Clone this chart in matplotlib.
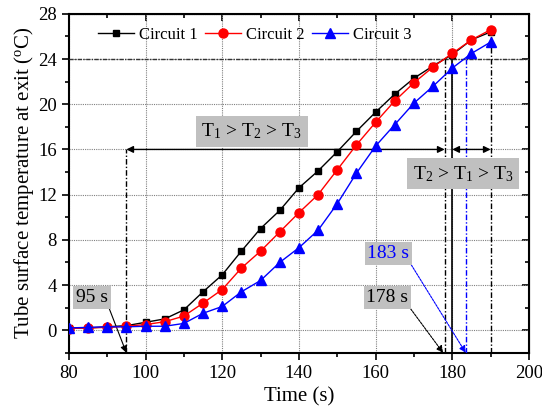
import matplotlib
matplotlib.use('Agg')
import matplotlib.pyplot as plt
from matplotlib.ticker import MultipleLocator

plt.rcParams['font.family'] = ['Liberation Serif', 'DejaVu Serif']
plt.rcParams['mathtext.fontset'] = 'custom'
plt.rcParams['mathtext.rm'] = 'Liberation Serif'
plt.rcParams['mathtext.it'] = 'Liberation Serif:italic'

# time (s)
time = [80, 85, 90, 95, 100, 105, 110, 115, 120, 125, 130, 135,
        140, 145, 150, 155, 160, 165, 170, 175, 180, 185, 190]
# tube surface temperature at exit (C)
circuit1 = [0.2, 0.2, 0.3, 0.4, 0.7, 1.0, 1.8, 3.4, 4.9, 7.0, 9.0, 10.6,
            12.6, 14.1, 15.8, 17.6, 19.3, 20.9, 22.3, 23.4, 24.4, 25.7, 26.4]
circuit2 = [0.15, 0.2, 0.25, 0.35, 0.5, 0.75, 1.25, 2.4, 3.6, 5.5, 7.0, 8.7,
            10.4, 12.0, 14.2, 16.4, 18.4, 20.3, 21.9, 23.3, 24.5, 25.7, 26.6]
circuit3 = [0.2, 0.25, 0.3, 0.3, 0.35, 0.35, 0.6, 1.5, 2.1, 3.4, 4.4, 6.0,
            7.3, 8.85, 11.2, 13.9, 16.3, 18.2, 20.1, 21.6, 23.2, 24.5, 25.5]

# marked instants (s) and levels (C)
t_start = 95
t_c1 = 178
t_c2 = 180
t_c3 = 183.5
t_end = 190
level_24 = 24
level_16 = 16

fig = plt.figure(figsize=(5.42, 4.2), dpi=100)
ax = fig.add_axes([0.127, 0.160, 0.849, 0.807])

ax.plot(time, circuit1, color='black', marker='s', ms=5, lw=1, label='Circuit 1', zorder=5)
ax.plot(time, circuit2, color='red', marker='o', ms=6.5, lw=1, label='Circuit 2', zorder=5)
ax.plot(time, circuit3, color='blue', marker='^', ms=7, lw=1, label='Circuit 3', zorder=5)

dashdot = (0, (4, 1.5, 1, 1.5))
ax.axhline(level_24, color='#333333', lw=1, ls=(0, (3, 1, 1, 1)), zorder=3)
ax.vlines(t_start, -2, level_16, color='black', lw=1, ls=dashdot, zorder=3)
ax.vlines(t_c1, -2, level_24, color='black', lw=1, ls=dashdot, zorder=3)
ax.vlines(t_c2, -2, circuit2[time.index(180)], color='black', lw=1.2, zorder=3)
ax.vlines(t_c3, -2, level_24, color='blue', lw=1, ls=dashdot, zorder=3)
ax.vlines(t_end, -2, circuit1[-1], color='black', lw=1, ls=dashdot, zorder=3)

arr = dict(arrowstyle='<|-|>', color='black', lw=1, mutation_scale=10, shrinkA=0, shrinkB=0)
ax.annotate('', xy=(t_start, level_16), xytext=(t_c1, level_16), arrowprops=arr, zorder=4)
ax.annotate('', xy=(t_c2, level_16), xytext=(t_end, level_16), arrowprops=arr, zorder=4)

box = dict(boxstyle='square,pad=0.15', fc='#c0c0c0', ec='none')
ax.annotate('95 s', xy=(t_start, -2), xytext=(86.1, 2.9), fontsize=14,
            ha='center', va='center', bbox=box,
            arrowprops=dict(arrowstyle='-|>', color='black', lw=0.8, relpos=(1, 0),
                            mutation_scale=10, shrinkA=0, shrinkB=0))
ax.annotate('178 s', xy=(t_c1 - 0.4, -2), xytext=(163.1, 2.9), fontsize=14,
            ha='center', va='center', bbox=box,
            arrowprops=dict(arrowstyle='-|>', color='black', lw=0.8, ls=(0, (2, 1)),
                            relpos=(1, 0), mutation_scale=10, shrinkA=0, shrinkB=0))
ax.annotate('183 s', xy=(t_c3, -2), xytext=(163.35, 6.8), fontsize=14, color='blue',
            ha='center', va='center', bbox=box,
            arrowprops=dict(arrowstyle='-|>', color='blue', lw=0.8, ls=(0, (2, 1)),
                            relpos=(1, 0), mutation_scale=10, shrinkA=0, shrinkB=0))

box2 = dict(boxstyle='square,pad=0.3', fc='#c0c0c0', ec='none')
ax.text(127.7, 17.6, r'T$_1$ > T$_2$ > T$_3$', fontsize=14, ha='center', va='center',
        bbox=box2, zorder=6)
ax.text(182.8, 13.85, r'T$_2$ > T$_1$ > T$_3$', fontsize=14, ha='center', va='center',
        bbox=box2, zorder=6)

ax.set_xlim(80, 200)
ax.set_ylim(-2, 28)
ax.xaxis.set_major_locator(MultipleLocator(20))
ax.xaxis.set_minor_locator(MultipleLocator(10))
ax.yaxis.set_major_locator(MultipleLocator(4))
ax.yaxis.set_minor_locator(MultipleLocator(2))
ax.grid(True, which='major', color='gray', lw=0.8, ls=(0, (1, 1)))

ax.tick_params(which='both', direction='out', top=False, right=False, labelsize=13.5, width=1.2)
ax.tick_params(which='major', length=5)
ax.tick_params(which='minor', length=3)

# inward ticks on the top and right edges
ax2 = ax.secondary_xaxis('top')
ax2.xaxis.set_major_locator(MultipleLocator(20))
ax2.xaxis.set_minor_locator(MultipleLocator(10))
ax2.tick_params(which='both', direction='in', labeltop=False, width=1.2)
ax2.tick_params(which='major', length=5)
ax2.tick_params(which='minor', length=3)
ay2 = ax.secondary_yaxis('right')
ay2.yaxis.set_major_locator(MultipleLocator(4))
ay2.yaxis.set_minor_locator(MultipleLocator(2))
ay2.tick_params(which='both', direction='in', labelright=False, width=1.2)
ay2.tick_params(which='major', length=5)
ay2.tick_params(which='minor', length=3)
for s in ax.spines.values():
    s.set_linewidth(1.5)

ax.set_xlabel('Time (s)', fontsize=15, labelpad=4)
ax.set_ylabel(r'Tube surface temperature at exit ($^{\rm o}$C)', fontsize=15, labelpad=2)

ax.legend(loc='center left', bbox_to_anchor=(0.063, 0.938), ncol=3, frameon=False,
          fontsize=12, handlelength=2.2, handletextpad=0.3, columnspacing=0.4,
          borderpad=0, borderaxespad=0)

fig.savefig('out.png', dpi=100)
